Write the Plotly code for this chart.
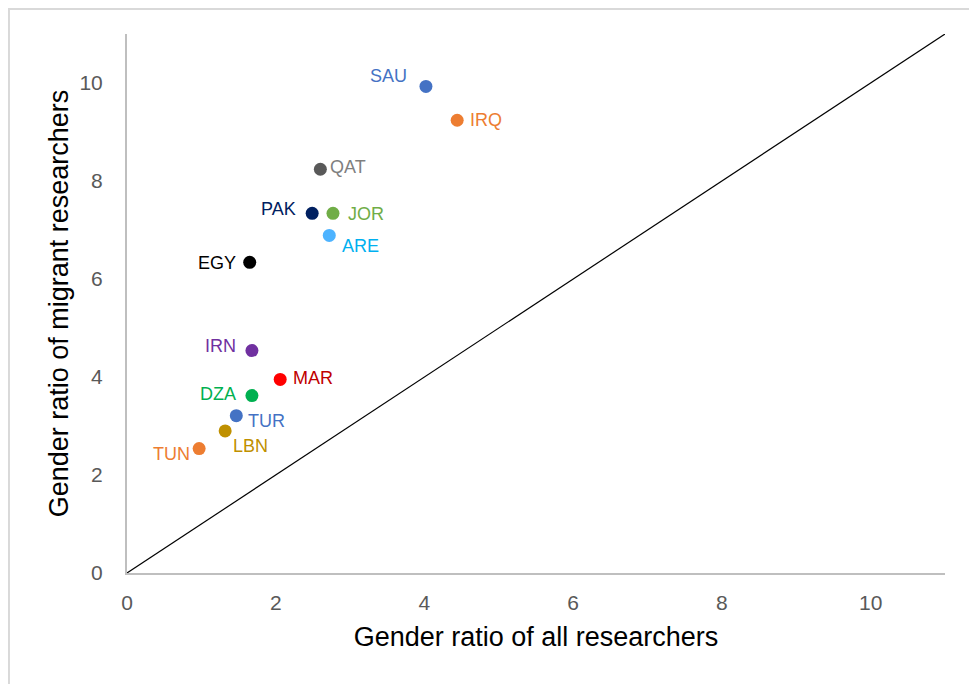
import plotly.graph_objects as go

countries = ["SAU", "IRQ", "QAT", "PAK", "JOR", "ARE", "EGY", "IRN", "MAR", "DZA", "TUR", "LBN", "TUN"]
ratio_all = [4.02, 4.44, 2.60, 2.49, 2.77, 2.72, 1.65, 1.68, 2.06, 1.68, 1.47, 1.32, 0.97]
ratio_migrant = [9.93, 9.24, 8.24, 7.34, 7.34, 6.89, 6.34, 4.54, 3.95, 3.62, 3.21, 2.90, 2.54]

marker_colors = ["#4472C4", "#ED7D31", "#595959", "#002060", "#70AD47", "#4DB3FF", "#000000",
                 "#7030A0", "#FF0000", "#00B050", "#4472C4", "#BF9000", "#ED7D31"]
label_colors = ["#4472C4", "#ED7D31", "#7F7F7F", "#002060", "#70AD47", "#00B0F0", "#000000",
                "#7030A0", "#C00000", "#00B050", "#4472C4", "#BF9000", "#ED7D31"]
# label pixel offsets (dx right, dy up)
label_dx = [-37, 29, 28, -34, 33, 31, -33, -31, 33, -34, 30, 25, -28]
label_dy = [10, 0, 2, 4, -1, -11, -1, 5, 1, 2, -5, -15, -5]

diag = [0, 11]
FONT = "Arial, Liberation Sans, sans-serif"

fig = go.Figure()
fig.add_trace(go.Scatter(x=diag, y=diag, mode="lines",
                         line=dict(color="black", width=1.2), hoverinfo="skip"))
fig.add_trace(go.Scatter(x=ratio_all, y=ratio_migrant, mode="markers",
                         marker=dict(color=marker_colors, size=13),
                         text=countries, hoverinfo="text"))

for c, x, y, col, dx, dy in zip(countries, ratio_all, ratio_migrant, label_colors, label_dx, label_dy):
    fig.add_annotation(x=x, y=y, text=c, showarrow=False, xshift=dx, yshift=dy,
                       font=dict(family=FONT, size=18, color=col))

# frame lines around chart area
fig.add_shape(type="line", xref="paper", yref="paper", x0=-0.1443, x1=-0.1443, y0=1.0464, y1=-0.25,
              line=dict(color="#d9d9d9", width=2))
fig.add_shape(type="line", xref="paper", yref="paper", x0=-0.1455, x1=1.1, y0=1.0464, y1=1.0464,
              line=dict(color="#d9d9d9", width=2))

axis_common = dict(
    range=[0, 11], showgrid=False, zeroline=False, showline=True,
    linecolor="#bfbfbf", linewidth=2, ticks="", tickmode="array",
    tickvals=[0, 2, 4, 6, 8, 10],
    tickfont=dict(family=FONT, size=21, color="#595959"),
)

fig.update_layout(
    width=977, height=684,
    margin=dict(l=119, r=40, t=26, b=119),
    paper_bgcolor="white", plot_bgcolor="white",
    showlegend=False,
    xaxis=dict(**axis_common, ticklabelstandoff=10,
               title=dict(text="Gender ratio of all researchers", standoff=14,
                          font=dict(family=FONT, size=27, color="black"))),
    yaxis=dict(**axis_common, ticklabelstandoff=18,
               title=dict(text="Gender ratio of migrant researchers", standoff=3,
                          font=dict(family=FONT, size=27, color="black"))),
)

fig.write_html("out.html")
